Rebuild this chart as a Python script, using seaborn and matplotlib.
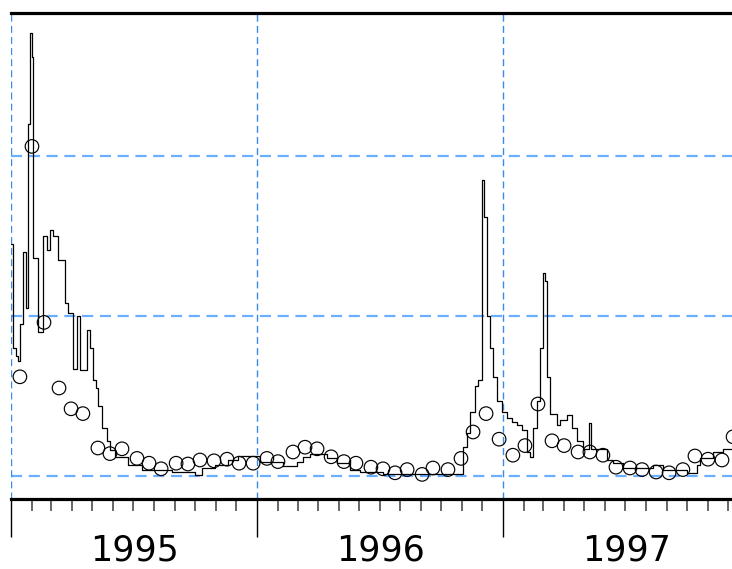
import numpy as np
import pandas as pd
import matplotlib
matplotlib.use("Agg")
import matplotlib.pyplot as plt
import seaborn as sns

# ---- data (time in decimal years) ----
step_time = [1995.000, 1995.007, 1995.019, 1995.027, 1995.035, 1995.048, 1995.060, 1995.068,
             1995.076, 1995.084, 1995.088, 1995.109, 1995.129, 1995.145, 1995.157, 1995.170,
             1995.190, 1995.218, 1995.230, 1995.251, 1995.267, 1995.279, 1995.308, 1995.320,
             1995.332, 1995.344, 1995.352, 1995.369, 1995.389, 1995.401, 1995.422, 1995.474,
             1995.531, 1995.653, 1995.747, 1995.775, 1995.828, 1995.881, 1995.922, 1996.011,
             1996.105, 1996.161, 1996.186, 1996.214, 1996.283, 1996.324, 1996.377, 1996.418,
             1996.511, 1996.836, 1996.852, 1996.865, 1996.885, 1996.897, 1996.914, 1996.922,
             1996.934, 1996.946, 1996.958, 1996.975, 1996.995, 1997.015, 1997.035, 1997.056,
             1997.076, 1997.096, 1997.108, 1997.120, 1997.137, 1997.149, 1997.161, 1997.169,
             1997.177, 1997.190, 1997.218, 1997.230, 1997.259, 1997.279, 1997.299, 1997.324,
             1997.348, 1997.356, 1997.393, 1997.421, 1997.446, 1997.487, 1997.609, 1997.650,
             1997.747, 1997.787, 1997.799, 1997.852, 1997.893, 1997.934]
step_value = [1.45, 0.80, 0.75, 0.72, 0.95, 1.40, 1.05, 2.20,
              2.77, 2.62, 1.36, 0.90, 1.50, 1.41, 1.54, 1.50,
              1.35, 1.08, 1.02, 0.67, 1.00, 0.66, 0.91, 0.80,
              0.60, 0.55, 0.44, 0.30, 0.22, 0.16, 0.12, 0.07,
              0.04, 0.025, 0.005, 0.05, 0.07, 0.10, 0.125, 0.09,
              0.06, 0.09, 0.12, 0.14, 0.11, 0.08, 0.04, 0.025,
              0.01, 0.18, 0.27, 0.40, 0.56, 0.60, 1.85, 1.62,
              1.00, 0.80, 0.62, 0.47, 0.40, 0.36, 0.34, 0.32,
              0.29, 0.15, 0.12, 0.30, 0.47, 0.80, 1.27, 1.22,
              0.62, 0.39, 0.32, 0.35, 0.38, 0.30, 0.22, 0.17,
              0.33, 0.17, 0.17, 0.10, 0.08, 0.05, 0.07, 0.04,
              0.02, 0.07, 0.11, 0.15, 0.17, 0.17]

point_time = [1995.035, 1995.084, 1995.133, 1995.194, 1995.243, 1995.291, 1995.352, 1995.401,
              1995.450, 1995.511, 1995.560, 1995.609, 1995.670, 1995.718, 1995.767, 1995.824,
              1995.877, 1995.926, 1995.983, 1996.039, 1996.084, 1996.145, 1996.194, 1996.243,
              1996.300, 1996.352, 1996.401, 1996.462, 1996.511, 1996.560, 1996.609, 1996.670,
              1996.714, 1996.775, 1996.828, 1996.877, 1996.930, 1996.983, 1997.039, 1997.088,
              1997.141, 1997.198, 1997.247, 1997.304, 1997.352, 1997.405, 1997.458, 1997.515,
              1997.564, 1997.621, 1997.674, 1997.730, 1997.779, 1997.832, 1997.889, 1997.934]
point_value = [0.62, 2.06, 0.96, 0.55, 0.42, 0.39, 0.175, 0.14,
               0.17, 0.11, 0.08, 0.045, 0.08, 0.075, 0.10, 0.095,
               0.105, 0.08, 0.08, 0.11, 0.09, 0.15, 0.18, 0.17,
               0.12, 0.09, 0.08, 0.055, 0.045, 0.02, 0.04, 0.01,
               0.05, 0.04, 0.11, 0.275, 0.39, 0.23, 0.13, 0.19,
               0.45, 0.22, 0.19, 0.15, 0.15, 0.13, 0.055, 0.05,
               0.04, 0.025, 0.02, 0.04, 0.125, 0.105, 0.10, 0.245]

years = [1995, 1996, 1997]
year_labels = ["1995", "1996", "1997"]
ref_levels = [0, 1, 2]

# ---- figure ----
sns.set_style("white")
plt.rcParams['font.family'] = ['DejaVu Sans']

W, H = 732, 569
fig = plt.figure(figsize=(W / 100, H / 100), dpi=100)
left_px, right_px, top_px, bottom_px = 11.3, 732, 13, 499
ax = fig.add_axes([left_px / W, 1 - bottom_px / H, (right_px - left_px) / W, (bottom_px - top_px) / H])

steps = pd.DataFrame({"t": step_time, "v": step_value})
pts = pd.DataFrame({"t": point_time, "v": point_value})

for lv in ref_levels:
    ax.axhline(lv, color="#6aaeff", lw=1.6, dashes=(5, 3), zorder=1)
for yr in years:
    ax.axvline(yr, color="#3a8ae8", lw=1.0, dashes=(5, 3), zorder=1)

sns.lineplot(data=steps, x="t", y="v", drawstyle="steps-post", color="black",
             linewidth=0.9, estimator=None, sort=False, ax=ax, zorder=3)
sns.scatterplot(data=pts, x="t", y="v", facecolor="none", edgecolor="black",
                s=95, linewidth=0.85, ax=ax, zorder=4)

x0 = 1995 + 0.0
x1 = 1995 + (right_px - left_px) / 246.0
ax.set_xlim(x0, x1)
ax.set_ylim((476 - bottom_px) / 160, (476 - top_px) / 160)

# ticks: month starts (minor) and year starts (major)
months = pd.date_range("1995-01-01", "1997-12-01", freq="MS")
month_pos = [d.year + (d.dayofyear - 1) / (366 if d.is_leap_year else 365) for d in months]
ax.set_xticks(years)
ax.set_xticks([m for m in month_pos if m not in years], minor=True)
ax.set_xticklabels([])
ax.set_yticks([])
ax.tick_params(axis="x", which="major", direction="out", length=27.5, width=1.0, color="black", bottom=True)
ax.tick_params(axis="x", which="minor", direction="out", length=8.5, width=1.4, color="#666666", bottom=True)

for s in ["left", "right"]:
    ax.spines[s].set_visible(False)
for s in ["top", "bottom"]:
    ax.spines[s].set_visible(True)
    ax.spines[s].set_linewidth(2.3)
    ax.spines[s].set_color("black")

ax.set_xlabel("")
ax.set_ylabel("")

trans = ax.get_xaxis_transform()
for yr, lab in zip(years, year_labels):
    ax.text(yr + 0.5, -0.105, lab, transform=trans, ha="center", va="center",
            fontsize=25, color="black", clip_on=False)

fig.savefig("out.png", dpi=100)
